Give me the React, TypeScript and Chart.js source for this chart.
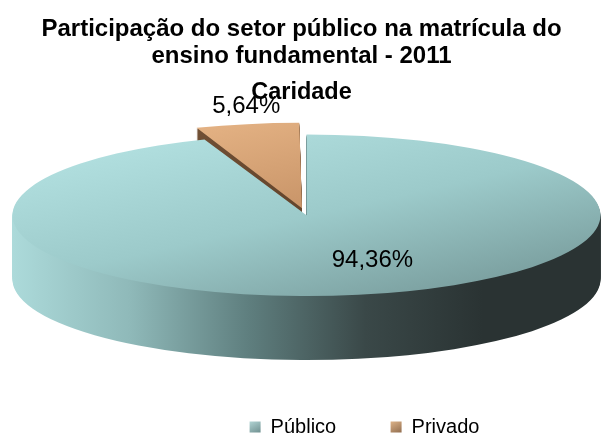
import React, { useEffect, useRef } from 'react';
import { Chart, registerables } from 'chart.js';

Chart.register(...registerables);

// ---- data ----
const categories = ['Público', 'Privado'];
const values = [94.36, 5.64];
const valueLabels = ['94,36%', '5,64%'];
const titleLines = ['Participação do setor público na matrícula do', 'ensino fundamental - 2011'];
const subtitleText = 'Caridade';
const explode = [0, 36];

// ---- styles ----
const FONT = "'Liberation Sans', Arial, Helvetica, sans-serif";
const TILT = 0.275; // ry / rx
const DEPTH_RATIO = 0.218; // depth / rx
const LEGEND_SHIFT_X = 63;
const LEGEND_SHIFT_Y = 10;
const topColors = [
  ['#b8e6e6', '#9ccaca', '#6f9090'],
  ['#eebd8e', '#c89468', '#8a684c'],
];
const sideColors = [
  ['#acdada', '#8fb9b9', '#5f7f7f', '#3a4848', '#2a3333', '#2a3333'],
  ['#8a6446', '#7a583c', '#6a4a30', '#5e4029', '#553a24', '#553a24'],
];
const legendColors = [
  ['#c3e6e6', '#5e7e7e'],
  ['#f0c497', '#7e5c40'],
];

const pie3d = {
  id: 'pie3d',
  afterLayout(chart: any) {
    const lg = chart.legend;
    if (!lg) return;
    lg.left += LEGEND_SHIFT_X;
    lg.right += LEGEND_SHIFT_X;
    lg.top += LEGEND_SHIFT_Y;
    lg.bottom += LEGEND_SHIFT_Y;
  },
  beforeDraw(chart: any) {
    const legend = chart.legend;
    if (!legend || !legend.legendItems || !legend.legendHitBoxes) return;
    const ctx = chart.ctx;
    legend.legendItems.forEach((item: any, i: number) => {
      const hb = legend.legendHitBoxes[i];
      if (!hb) return;
      const g = ctx.createLinearGradient(hb.left, hb.top, hb.left + 11, hb.top + hb.height);
      const c = legendColors[i % legendColors.length];
      g.addColorStop(0, c[0]);
      g.addColorStop(1, c[1]);
      item.fillStyle = g;
      item.lineWidth = 0;
      item.strokeStyle = 'rgba(0,0,0,0)';
    });
  },
  beforeDatasetsDraw(chart: any) {
    const ctx = chart.ctx;
    const meta = chart.getDatasetMeta(0);
    const arcs = meta.data as any[];
    if (!arcs.length) return false;
    const a0 = arcs[0];
    const ox = a0.x, oy = a0.y, r = a0.outerRadius;
    const area = chart.chartArea;
    const rx = chart.width / 2 - 7.5;
    const ry = rx * TILT;
    const depth = Math.round(rx * DEPTH_RATIO);
    const cx = chart.width / 2 + 5;
    const cy = area.top + (area.height - depth) / 2 + 15.5;
    const sx = rx / r, sy = ry / r;
    const toArc = () => {
      ctx.translate(cx, cy);
      ctx.scale(sx, sy);
      ctx.translate(-ox, -oy);
    };
    const drawArc = (arc: any, fill: any) => {
      const orig = arc.options;
      arc.options = Object.assign({}, orig, { backgroundColor: fill, borderWidth: 0 });
      arc.draw(ctx);
      arc.options = orig;
    };

    const sideGrads = arcs.map((_, i) => {
      const g = ctx.createLinearGradient(ox - r, 0, ox + r, 0);
      const c = sideColors[i % sideColors.length];
      c.forEach((col, k) => g.addColorStop(k / (c.length - 1), col));
      return g;
    });
    const topGrads = arcs.map((_, i) => {
      const g = ctx.createLinearGradient(ox - r, oy - r, ox + r * 0.8, oy + r * 1.2);
      const c = topColors[i % topColors.length];
      c.forEach((col, k) => g.addColorStop(k / (c.length - 1), col));
      return g;
    });

    // depth (side walls)
    for (let d = depth; d >= 1; d--) {
      ctx.save();
      ctx.translate(0, d);
      toArc();
      for (let i = arcs.length - 1; i >= 0; i--) drawArc(arcs[i], sideGrads[i]);
      ctx.restore();
    }
    // top faces
    ctx.save();
    toArc();
    for (let i = arcs.length - 1; i >= 0; i--) drawArc(arcs[i], topGrads[i]);
    ctx.restore();

    // value labels
    ctx.save();
    ctx.fillStyle = '#000';
    ctx.font = `24px ${FONT}`;
    ctx.textAlign = 'center';
    ctx.textBaseline = 'middle';
    arcs.forEach((arc: any, i: number) => {
      const mid = (arc.startAngle + arc.endAngle) / 2;
      const offs = (explode[i] || 0) * 0.41 / r;
      let lx: number, ly: number;
      if (i === 0) {
        lx = cx + rx * (0.62 * Math.cos(mid) + 0.115);
        ly = cy + ry * 0.57 * Math.sin(mid);
      } else {
        lx = cx + rx * (1 + offs) * Math.cos(mid) - 1;
        ly = cy + ry * (1 + offs) * Math.sin(mid) - 18;
      }
      ctx.fillText(valueLabels[i], lx, ly);
    });
    ctx.restore();
    return false;
  },
};

export default function App() {
  const ref = useRef<HTMLCanvasElement | null>(null);
  useEffect(() => {
    if (!ref.current) return;
    const chart = new Chart(ref.current, {
      type: 'pie',
      data: {
        labels: categories,
        datasets: [
          {
            data: values,
            backgroundColor: ['#8ab3b3', '#c8976b'],
            borderWidth: 0,
            offset: explode,
          },
        ],
      },
      options: {
        responsive: false,
        animation: false,
        rotation: 0,
        layout: { padding: 0 },
        plugins: {
          title: {
            display: true,
            text: titleLines,
            color: '#000',
            font: { family: FONT, size: 24, weight: 'bold', lineHeight: 1.125 },
            padding: { top: 15.7, bottom: 4 },
          },
          subtitle: {
            display: true,
            text: subtitleText,
            color: '#000',
            font: { family: FONT, size: 23.5, weight: 'bold', lineHeight: 1.2 },
            padding: { top: 5, bottom: 4 },
          },
          legend: {
            position: 'bottom',
            labels: {
              boxWidth: 11,
              boxHeight: 11,
              padding: 54.4,
              color: '#000',
              font: { family: FONT, size: 20 },
            },
          },
          tooltip: { enabled: false },
        },
      },
      plugins: [pie3d],
    } as any);
    return () => chart.destroy();
  }, []);
  return (
    <div style={{ position: 'absolute', left: 0, top: 0, width: 603, height: 437, background: '#fff' }}>
      <canvas ref={ref} width={603} height={437} />
    </div>
  );
}
